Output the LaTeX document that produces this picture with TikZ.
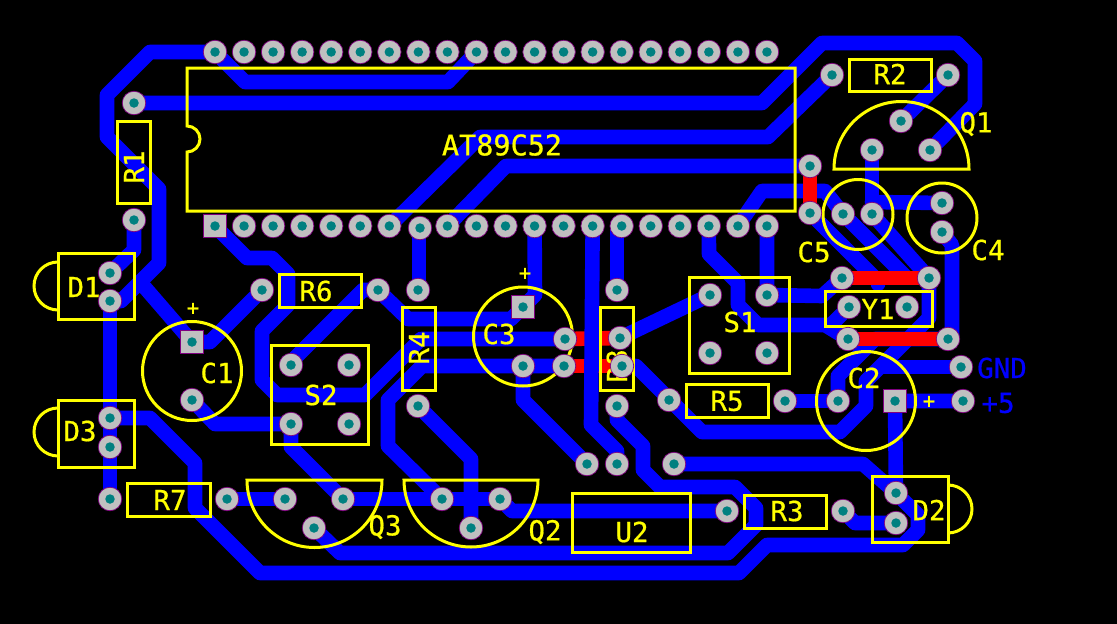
\documentclass[tikz,border=0pt]{standalone}
\usepackage{fontspec}
\setmainfont{DejaVu Sans Mono}
\newfontfamily\silkfont[FakeBold=0.7]{DejaVu Sans Mono}
\definecolor{trk}{RGB}{0,0,255}
\definecolor{red2}{RGB}{255,0,0}
\definecolor{silk}{RGB}{255,255,0}
\definecolor{padg}{RGB}{192,192,192}
\definecolor{padb}{RGB}{128,0,128}
\definecolor{holec}{RGB}{0,128,128}
\tikzset{
  trace/.style={draw=trk,line width=14.6pt,line join=round,line cap=round},
  jumper/.style={draw=red2,line width=14.6pt,line cap=butt},
  outline/.style={draw=silk,line width=3pt,line join=miter},
  label/.style={text=silk,font=\silkfont\fontsize{27.5}{27.5}\selectfont,inner sep=0pt},
  netlabel/.style={text=trk,font=\silkfont\fontsize{27.5}{27.5}\selectfont,inner sep=0pt},
  plusmark/.style={text=silk,font=\silkfont\fontsize{21}{21}\selectfont,inner sep=0pt},
  roundpad/.style={circle,fill=padg,draw=padb,line width=0.7pt,minimum size=23.5pt,inner sep=0pt},
  squarepad/.style={rectangle,fill=padg,draw=padb,line width=0.7pt,minimum size=23.5pt,inner sep=0pt},
  hole/.style={circle,fill=holec,minimum size=9.5pt,inner sep=0pt},
}
\newcommand{\pad}[3]{\node[roundpad] (#1) at (#2,#3) {}; \node[hole] at (#1.center) {};}
\newcommand{\padsq}[3]{\node[squarepad] (#1) at (#2,#3) {}; \node[hole] at (#1.center) {};}
\begin{document}
\begin{tikzpicture}[x=1pt,y=-1pt]
\useasboundingbox[fill=black] (0,0) rectangle (1117,624);
% pad positions
\foreach \i in {1,...,20}{
  \pgfmathsetmacro{\xx}{215+29.05*(\i-1)}
  \coordinate (T\i) at (\xx,52);
  \coordinate (B\i) at (\xx,226);
}
\coordinate (B8) at (420,228);
\foreach \n/\x/\y in {
 Ra/134/103,Rb/134/220,Da/110/273,Db/110/301,Dc/110/418,Dd/110/447,
 Rg/110/499,Rh/227/499,Ca/192/342,Cb/192/400,Re/262/290,Rf/378/290,
 Sa/291/365,Sb/349/365,Sc/291/424,Sd/349/424,Qa/285/499,Qb/343/499,Qc/314/528,
 Rj/418/290,Rk/418/406,Cc/523/307,Cd/523/366,Ce/565/339,Cf/564/366,
 Rm/617/290,Rn/620/338,Ro/622/366,Rp/617/406,
 Ua/587/464,Ub/617/464,Uc/674/464,Qd/442/499,Qe/500/499,Qf/471/528,
 Rq/727/511,Rr/843/511,Dh/896/493,Di/896/523,Rs/669/400,Rt/785/401,
 Cg/838/401,Ch/895/401,GND/961/367,PFV/963/401,Ya/849/307,Yb/907/307,
 Ja/848/339,Jb/948/339,Jc/842/278,Jd/929/278,Ci/843/214,Cj/872/214,
 Ck/942/203,Cl/942/232,Je/810/166,Jf/810/213,Qg/901/121,Qh/872/150,Qi/930/150,
 Ru/832/75,Rv/948/75,Sh/710/295,Si/767/295,Sj/710/353,Sk/767/353}{
 \coordinate (\n) at (\x,\y);
}
% traces
\draw[trace] (T1) -- (150,52) -- (107,95) -- (107,137) -- (159,189) -- (159,263) -- (121,301) -- (Db);
\draw[trace] (141,283) -- (Ca);
\draw[trace] (T1) -- (245,82) -- (448,82) -- (T10);
\draw[trace] (Ra) -- (762,103) -- (822,43) -- (957,43) -- (975,61) -- (975,104) -- (Qi);
\draw[trace] (Ru) -- (768,137) -- (480,137) -- (B7);
\draw[trace] (Je) -- (506,166) -- (B9);
\draw[trace] (B19) -- (762,191) -- (825,191) -- (Ci) -- (905,276);
\draw[trace] (Jf) -- (875,278) -- (878,281) -- (878,284);
\draw[trace] (Cj) -- (Jd);
\draw[trace] (Qh) -- (Cj);
\draw[trace] (872,202) -- (Ck);
\draw[trace] (Qg) -- (Rv);
\draw[trace] (Cl) -- (952,245) -- (952,335) -- (Jb);
\draw[trace] (B18) -- (709,254) -- (738,283) -- (738,305) -- (758,325) -- (825,325) -- (Ja);
\draw[trace] (825,325) -- (831,325) -- (Ya);
\draw[trace] (B20) -- (Si) -- (822,296) -- (Jc);
\draw[trace] (Jd) -- (929,318) -- (866,381) -- (866,406) -- (840,432) -- (702,432) -- (636,366) -- (Ro);
\draw[trace] (Cg) -- (838,376) -- (875,339) -- (Jb);
\draw[trace] (GND) -- (881,367);
\draw[trace] (PFV) -- (Ch) -- (Dh);
\draw[trace] (Rt) -- (Cg);
\draw[trace] (Uc) -- (863,464) -- (Dh) -- (918,515) -- (918,530) -- (903,545) -- (767,545) -- (739,573) -- (260,573) -- (195,508) -- (195,463) -- (150,418) -- (Dc);
\draw[trace] (Rr) -- (855,523) -- (Di);
\draw[trace] (Rp) -- (617,420) -- (643,446) -- (643,470) -- (660,487) -- (735,487) -- (756,508) -- (756,525) -- (728,553) -- (340,553) -- (Qc);
\draw[trace] (Qe) -- (512,511) -- (Rq);
\draw[trace] (Qf) -- (471,459) -- (Rk);
\draw[trace] (Qb) -- (Qe);
\draw[trace] (Qd) -- (388,446) -- (388,400) -- (422,366) -- (Cd) -- (Cf);
\draw[trace] (Rh) -- (Qa);
\draw[trace] (Qb) -- (291,447) -- (Sc) -- (215,424) -- (Cb);
\draw[trace] (B1) -- (247,258) -- (272,258) -- (288,274) -- (288,305) -- (262,331) -- (262,380) -- (277,395) -- (365,395) -- (421,339) -- (Ce);
\draw[trace] (Rf) -- (363,290) -- (291,362) -- (Sa);
\draw[trace] (Re) -- (210,342) -- (Ca);
\draw[trace] (Rf) -- (408,319) -- (511,319) -- (Cc);
\draw[trace] (B12) -- (535,295) -- (Cc);
\draw[trace] (419,228) -- (419,290);
\draw[trace] (Cd) -- (523,400) -- (Ua);
\draw[trace] (617,230) -- (Rm);
\draw[trace] (Rn) -- (Sh);
\draw[trace] (Rb) -- (134,250) -- (Da);
\draw[trace] (Db) -- (Rg);
% jumpers
\draw[jumper] (Ce) -- (Rn);
\draw[jumper] (Cf) -- (Ro);
\draw[jumper] (Jc) -- (Jd);
\draw[jumper] (Ja) -- (Jb);
\draw[jumper] (Je) -- (Jf);
% this track runs over the two jumpers
\draw[trace] (B14) -- (591,425) -- (617,451) -- (Ub);
% silkscreen
\draw[outline] (187,68) -- (795,68) -- (795,211) -- (187,211) -- (187,152) arc[start angle=-90,end angle=90,radius=13pt] -- cycle;
\foreach \a/\b/\c/\d in {117/121/150/203,849/59/931/91,279/274/361/307,127/483/210/516,
  402/307/435/390,600/307/633/390,686/384/768/417,744/495/826/528,572/493/690/552,
  689/277/789/373,271/345/368/444,825/291/932/326,58/253/134/319,58/400/134/467,872/476/948/542}{
  \draw[outline] (\a,\b) rectangle (\c,\d);
}
\draw[outline] (58,262) arc[start angle=90,end angle=270,radius=24pt];
\draw[outline] (58,408) arc[start angle=90,end angle=270,radius=24pt];
\draw[outline] (948,485) arc[start angle=90,end angle=-90,radius=24pt];
\draw[outline] (192,371) circle[radius=49.5pt];
\draw[outline] (866,401) circle[radius=49.5pt];
\draw[outline] (523,336.5) circle[radius=49.5pt];
\draw[outline] (858,214.5) circle[radius=35pt];
\draw[outline] (942,218) circle[radius=35pt];
\draw[outline] (834,169) arc[start angle=180,end angle=0,radius=67.5pt] -- cycle;
\draw[outline] (247,480) arc[start angle=180,end angle=360,radius=67.5pt] -- cycle;
\draw[outline] (404,480) arc[start angle=180,end angle=360,radius=67pt] -- cycle;
% text
\node[label,font=\silkfont\fontsize{28.5}{28.5}\selectfont] (lic) at (502,145) {AT89C52};
\node[label,rotate=90] (lra) at (134,167) {R1};
\node[label] (lrb) at (890,74) {R2};
\node[label] (lrc) at (787,511) {R3};
\node[label,rotate=90] (lrd) at (419,348) {R4};
\node[label] (lre) at (727,401) {R5};
\node[label] (lrf) at (316,291) {R6};
\node[label] (lrg) at (170,500) {R7};
\node[label,rotate=90] (lrh) at (617,366) {R8};
\node[label] (lca) at (217,373) {C1};
\node[label] (lcb) at (864,378) {C2};
\node[label] (lcc) at (499,334) {C3};
\node[label] (lcd) at (988,250) {C4};
\node[label] (lce) at (814,252) {C5};
\node[label] (lda) at (84,287) {D1};
\node[label] (ldb) at (929,510) {D2};
\node[label] (ldc) at (80,431) {D3};
\node[label] (lqa) at (976,124) {Q1};
\node[label] (lqb) at (545,532) {Q2};
\node[label] (lqc) at (385,527) {Q3};
\node[label] (lsa) at (740,322) {S1};
\node[label] (lsb) at (321,395) {S2};
\node[label] (lua) at (632,532) {U2};
\node[label] (lya) at (878,309) {Y1};
\node[plusmark] (pa) at (193,309) {+};
\node[plusmark] (pb) at (525,274) {+};
\node[plusmark] (pc) at (929,402) {+};
\node[netlabel] (lgnd) at (1002,368) {GND};
\node[netlabel] (lfv) at (998,403) {+5};
% pads
\foreach \i in {1,...,20}{
  \pgfmathsetmacro{\xx}{215+29.05*(\i-1)}
  \pad{pT\i}{\xx}{52}
}
\padsq{pB1}{215}{226}
\foreach \i in {2,3,4,5,6,7,9,10,11,12,13,14,15,16,17,18,19,20}{
  \pgfmathsetmacro{\xx}{215+29.05*(\i-1)}
  \pad{pB\i}{\xx}{226}
}
\pad{pB8}{420}{228}
\padsq{pCa}{192}{342}
\padsq{pCc}{523}{307}
\padsq{pCh}{895}{401}
\foreach \n/\x/\y in {
 Ra/134/103,Rb/134/220,Da/110/273,Db/110/301,Dc/110/418,Dd/110/447,
 Rg/110/499,Rh/227/499,Cb/192/400,Re/262/290,Rf/378/290,
 Sa/291/365,Sb/349/365,Sc/291/424,Sd/349/424,Qa/285/499,Qb/343/499,Qc/314/528,
 Rj/418/290,Rk/418/406,Cd/523/366,Ce/565/339,Cf/564/366,
 Rm/617/290,Rn/620/338,Ro/622/366,Rp/617/406,
 Ua/587/464,Ub/617/464,Uc/674/464,Qd/442/499,Qe/500/499,Qf/471/528,
 Rq/727/511,Rr/843/511,Dh/896/493,Di/896/523,Rs/669/400,Rt/785/401,
 Cg/838/401,GND/961/367,PFV/963/401,Ya/849/307,Yb/907/307,
 Ja/848/339,Jb/948/339,Jc/842/278,Jd/929/278,Ci/843/214,Cj/872/214,
 Ck/942/203,Cl/942/232,Je/810/166,Jf/810/213,Qg/901/121,Qh/872/150,Qi/930/150,
 Ru/832/75,Rv/948/75,Sh/710/295,Si/767/295,Sj/710/353,Sk/767/353}{
 \pad{p\n}{\x}{\y}
}
\end{tikzpicture}
\end{document}
